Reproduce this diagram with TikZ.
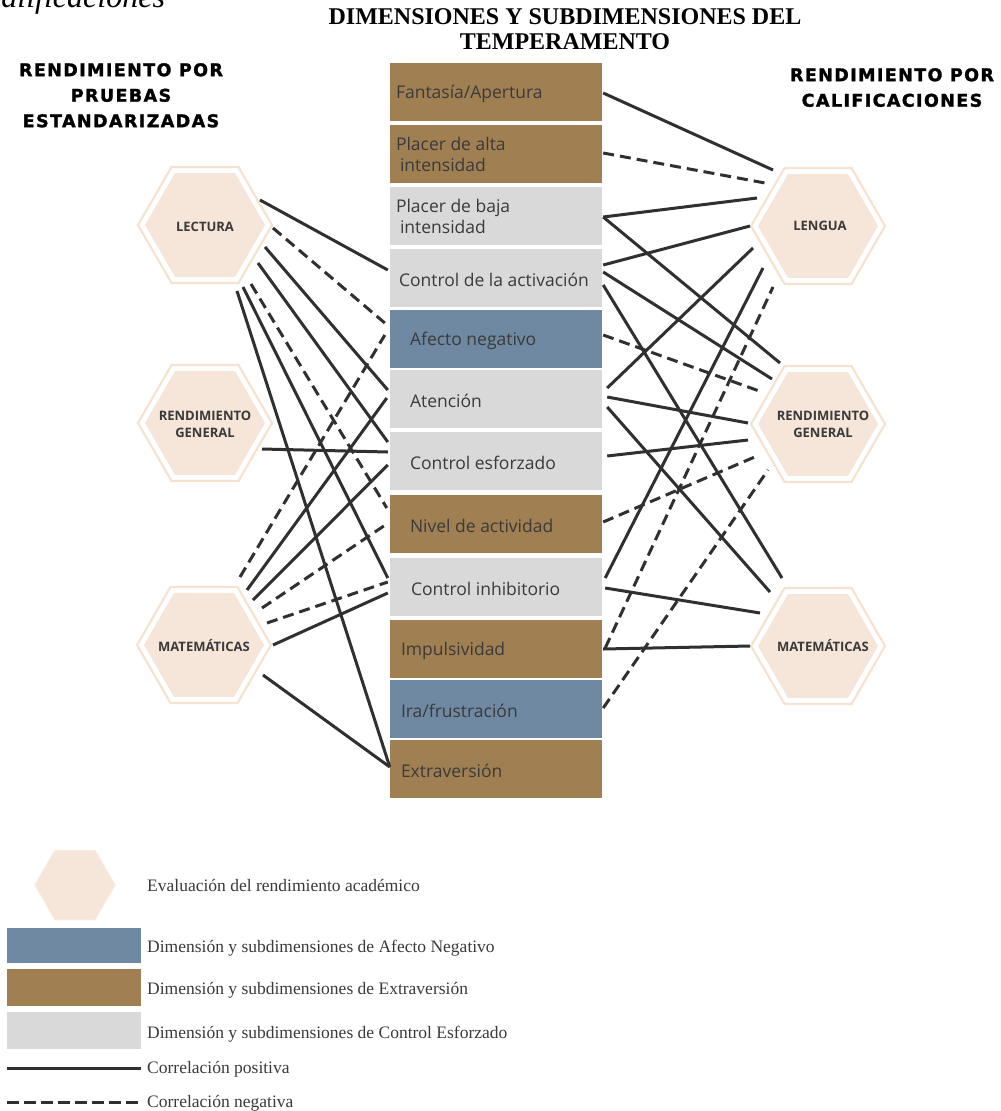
\documentclass[tikz,border=0pt]{standalone}
\usepackage{fontspec}
\setmainfont{Liberation Serif}
\newfontfamily\boxfont{Open Sans}
\newfontfamily\hdrfont[LetterSpace=8, BoldFeatures={FakeBold=1.6}]{DejaVu Sans}
\usetikzlibrary{shapes.geometric,calc}
\definecolor{brownc}{RGB}{160,128,82}
\definecolor{bluec}{RGB}{111,137,162}
\definecolor{grayc}{RGB}{217,217,217}
\definecolor{hexfill}{RGB}{245,230,217}
\definecolor{hexring}{RGB}{246,226,208}
\definecolor{linec}{RGB}{48,48,48}
\definecolor{txtc}{RGB}{58,58,58}
\tikzset{
  hexout/.style={regular polygon, regular polygon sides=6, minimum size=134pt, inner sep=0pt, draw=hexring, line width=2.2pt, fill=white},
  hexin/.style={regular polygon, regular polygon sides=6, minimum size=120pt, inner sep=0pt, fill=hexfill},
  hextxt/.style={font=\boxfont\bfseries\fontsize{13}{17}\selectfont, text=txtc, align=center, inner sep=0pt},
  dimbox/.style={rectangle, minimum width=212pt, minimum height=58pt, inner sep=0pt},
  boxtxt/.style={font=\boxfont\fontsize{17.5}{20.5}\selectfont, text=txtc, anchor=west, align=left, inner sep=0pt},
  hdr/.style={font=\hdrfont\bfseries\fontsize{17.5}{25.5}\selectfont, align=center, inner sep=0pt, anchor=north},
  legtxt/.style={font=\fontsize{17.5}{20}\selectfont, text=txtc, anchor=base west, inner sep=0pt},
  posline/.style={draw=linec, line width=3pt},
  negline/.style={posline, dash pattern=on 11pt off 6pt},
}
\begin{document}
\begin{tikzpicture}[x=1pt,y=-1pt]
\useasboundingbox (0,0) rectangle (1001,1111);
% cut caption
\node[anchor=base west, inner sep=0pt, font=\itshape\fontsize{32}{34}\selectfont] (cap) at (-13,7) {calificaciones};
% title
\node[anchor=north, align=center, inner sep=0pt, font=\bfseries\fontsize{24}{25}\selectfont] (title) at (565,8) {DIMENSIONES Y SUBDIMENSIONES DEL\\TEMPERAMENTO};
\node[hdr] (hl) at (121,63) {RENDIMIENTO POR\\PRUEBAS\\ESTANDARIZADAS};
\node[hdr] (hr) at (892,68) {RENDIMIENTO POR\\CALIFICACIONES};

% dimension boxes
\node[dimbox, fill=brownc] (b1) at (496,92) {};
\node[dimbox, fill=brownc] (b2) at (496,153.5) {};
\node[dimbox, fill=grayc] (b3) at (496,215.5) {};
\node[dimbox, fill=grayc] (b4) at (496,277.5) {};
\node[dimbox, fill=bluec] (b5) at (496,338.5) {};
\node[dimbox, fill=grayc] (b6) at (496,399) {};
\node[dimbox, fill=grayc] (b7) at (496,460.5) {};
\node[dimbox, fill=brownc] (b8) at (496,524) {};
\node[dimbox, fill=grayc] (b9) at (496,587) {};
\node[dimbox, fill=brownc] (b10) at (496,649) {};
\node[dimbox, fill=bluec] (b11) at (496,709) {};
\node[dimbox, fill=brownc] (b12) at (496,769) {};
\node[boxtxt] (t1) at ($(b1.west)+(6,2)$) {Fantasía/Apertura};
\node[boxtxt] (t2) at ($(b2.west)+(6,1)$) {Placer de alta\\\hspace*{4pt}intensidad};
\node[boxtxt] (t3) at ($(b3.west)+(6,1)$) {Placer de baja\\\hspace*{4pt}intensidad};
\node[boxtxt] (t4) at ($(b4.west)+(9,2)$) {Control de la activación};
\node[boxtxt] (t5) at ($(b5.west)+(20,2)$) {Afecto negativo};
\node[boxtxt] (t6) at ($(b6.west)+(20,2)$) {Atención};
\node[boxtxt] (t7) at ($(b7.west)+(20,2)$) {Control esforzado};
\node[boxtxt] (t8) at ($(b8.west)+(20,2)$) {Nivel de actividad};
\node[boxtxt] (t9) at ($(b9.west)+(21,2)$) {Control inhibitorio};
\node[boxtxt] (t10) at ($(b10.west)+(11,2)$) {Impulsividad};
\node[boxtxt] (t11) at ($(b11.west)+(11,2)$) {Ira/frustración};
\node[boxtxt] (t12) at ($(b12.west)+(11,2)$) {Extraversión};

% hexagons
\foreach \n/\x/\y in {lec/205/225, rgl/205/423, matl/204/645, len/818/226, rgr/818/424, matr/818/646}{
  \node[hexout] (\n) at (\x,\y) {};
  \node[hexin] (\n-in) at (\x,\y) {};
}
\node[hextxt] (lect) at ($(lec)+(0,2)$) {LECTURA};
\node[hextxt] (rglt) at ($(rgl)+(0,1)$) {RENDIMIENTO\\GENERAL};
\node[hextxt] (matlt) at ($(matl)+(0,1)$) {MATEMÁTICAS};
\node[hextxt] (lent) at ($(len)+(2,0)$) {LENGUA};
\node[hextxt] (rgrt) at ($(rgr)+(5,0)$) {RENDIMIENTO\\GENERAL};
\node[hextxt] (matrt) at ($(matr)+(5,0)$) {MATEMÁTICAS};

% left connectors
\draw[posline] ($(lec)+(55,-25)$) -- ($(b4.west)+(-2,-7.5)$);
\draw[negline] ($(lec)+(68,3)$) -- ($(b5.west)+(-5,-15.5)$);
\draw[posline] ($(lec)+(60,22)$) -- ($(b6.west)+(-2,-9)$);
\draw[posline] ($(lec)+(53,38)$) -- ($(b7.west)+(-2,-18.5)$);
\draw[negline] ($(lec)+(46,59)$) -- ($(b8.west)+(-3,-16)$);
\draw[posline] ($(lec)+(38,62)$) -- ($(b9.west)+(-2,-9)$);
\draw[posline] ($(lec)+(32,66)$) -- ($(b12.west)+(0,-2)$);
\draw[posline] ($(rgl)+(57,26)$) -- ($(b7.west)+(-2,-8.5)$);
\draw[negline] ($(matl)+(36,-68)$) -- ($(b5.west)+(-5,-3.5)$);
\draw[posline] ($(matl)+(43,-55)$) -- ($(b6.west)+(-3,-1)$);
\draw[posline] ($(matl)+(49,-45)$) -- ($(b7.west)+(-2,4.5)$);
\draw[negline] ($(matl)+(58,-37)$) -- ($(b8.west)+(-6,2)$);
\draw[negline] ($(matl)+(63,-22)$) -- ($(b9.west)+(-2,-5)$);
\draw[posline] ($(matl)+(69,0)$) -- ($(b9.west)+(-2,6)$);
\draw[posline] ($(matl)+(59,30)$) -- ($(b12.west)+(0,-2)$);

% right connectors
\draw[posline] ($(b1.east)+(1,1)$) -- ($(len)+(-45,-56)$);
\draw[negline] ($(b2.east)+(1,-0.5)$) -- ($(len)+(-53,-43)$);
\draw[posline] ($(b3.east)+(1,1.5)$) -- ($(len)+(-61,-28)$);
\draw[posline] ($(b3.east)+(1,1.5)$) -- ($(rgr)+(-38,-61)$);
\draw[posline] ($(b4.east)+(1,-12.5)$) -- ($(len)+(-68,0)$);
\draw[posline] ($(b4.east)+(1,-5.5)$) -- ($(rgr)+(-46,-45)$);
\draw[posline] ($(b4.east)+(1,7.5)$) -- ($(matr)+(-36,-68)$);
\draw[negline] ($(b5.east)+(1,-3.5)$) -- ($(rgr)+(-56,-32)$);
\draw[posline] ($(b6.east)+(5,-11)$) -- ($(len)+(-65,22)$);
\draw[posline] ($(b6.east)+(5,-2)$) -- ($(rgr)+(-70,-1)$);
\draw[posline] ($(b6.east)+(5,8)$) -- ($(matr)+(-48,-54)$);
\draw[posline] ($(b7.east)+(5,-4.5)$) -- ($(rgr)+(-70,16)$);
\draw[negline] ($(b8.east)+(1,-2)$) -- ($(rgr)+(-61,32)$);
\draw[posline] ($(b9.east)+(3,-9)$) -- ($(len)+(-55,42)$);
\draw[posline] ($(b9.east)+(3,1)$) -- ($(matr)+(-58,-33)$);
\draw[negline] ($(b10.east)+(3,-1)$) -- ($(len)+(-45,61)$);
\draw[posline] ($(b10.east)+(1,0)$) -- ($(matr)+(-68,0)$);
\draw[negline] ($(b11.east)+(1,-1)$) -- ($(rgr)+(-50,46)$);

% legend
\node[regular polygon, regular polygon sides=6, minimum size=80pt, inner sep=0pt, fill=hexfill, draw=hexring!70!white, line width=1.2pt] (lghex) at (75,885) {};
\node[rectangle, minimum width=134pt, minimum height=35pt, inner sep=0pt, fill=bluec] (lg1) at (74,945.5) {};
\node[rectangle, minimum width=134pt, minimum height=37pt, inner sep=0pt, fill=brownc] (lg2) at (74,987) {};
\node[rectangle, minimum width=134pt, minimum height=37pt, inner sep=0pt, fill=grayc] (lg3) at (74,1030.5) {};
\coordinate (lp1) at (7,1068);
\coordinate (lp2) at (141,1068);
\coordinate (ln1) at (7,1102);
\coordinate (ln2) at (141,1102);
\draw[posline] (lp1) -- (lp2);
\draw[posline, dash pattern=on 12pt off 5pt] (ln1) -- (ln2);
\node[legtxt] (lt0) at (147,891) {Evaluación del rendimiento académico};
\node[legtxt] (lt1) at (147,952) {Dimensión y subdimensiones de Afecto Negativo};
\node[legtxt] (lt2) at (147,994) {Dimensión y subdimensiones de Extraversión};
\node[legtxt] (lt3) at (147,1038) {Dimensión y subdimensiones de Control Esforzado};
\node[legtxt] (lt4) at (147,1073) {Correlación positiva};
\node[legtxt] (lt5) at (147,1107) {Correlación negativa};
\end{tikzpicture}
\end{document}
